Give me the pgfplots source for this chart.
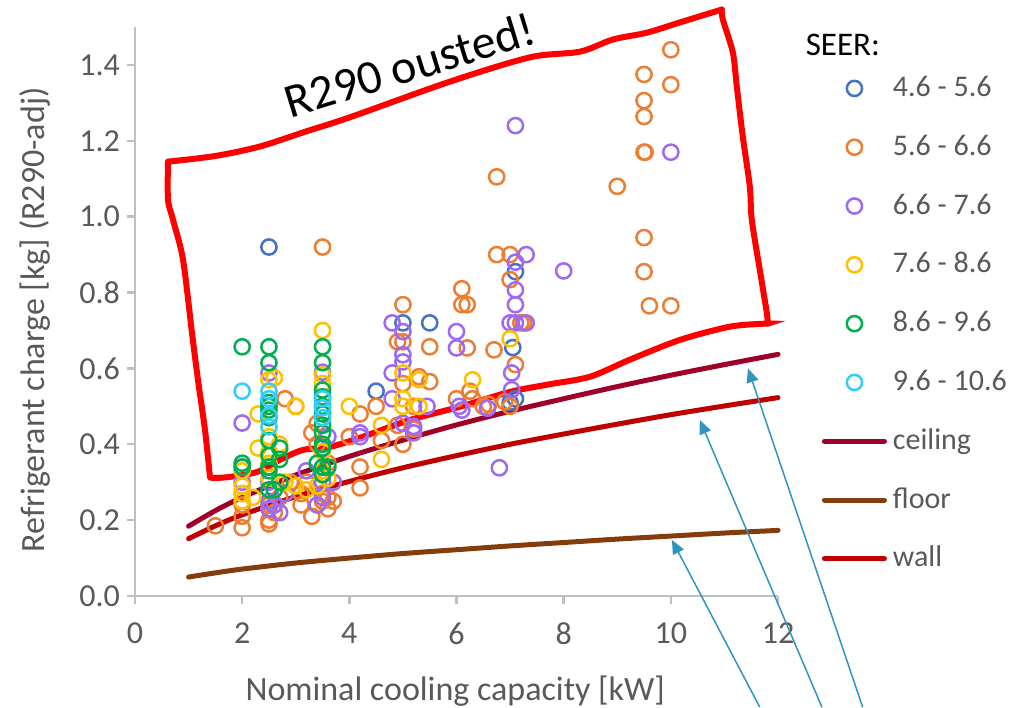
\documentclass[border=0pt]{standalone}
\usepackage{fontspec}
\setmainfont{Carlito}
\usepackage{pgfplots}
\pgfplotsset{compat=1.18}
\usetikzlibrary{arrows.meta}
\definecolor{cBlue}{RGB}{68,114,196}
\definecolor{cOrange}{RGB}{237,125,49}
\definecolor{cPurple}{RGB}{158,105,245}
\definecolor{cYellow}{RGB}{255,192,0}
\definecolor{cGreen}{RGB}{0,176,80}
\definecolor{cCyan}{RGB}{51,204,255}
\definecolor{cCeil}{RGB}{160,0,40}
\definecolor{cFloor}{RGB}{132,60,12}
\definecolor{cWall}{RGB}{192,0,0}
\definecolor{cGray}{RGB}{89,89,89}
\definecolor{cAxis}{RGB}{191,191,191}
\definecolor{cArrow}{RGB}{46,150,190}
\begin{document}
\begin{tikzpicture}
\begin{axis}[
  scale only axis, width=321.5pt, height=284.5pt,
  xmin=0, xmax=12, ymin=0, ymax=1.5,
  axis x line=bottom, axis y line=left,
  axis line style={-, draw=cAxis, line width=1.2pt},
  xtick={0,2,4,6,8,10,12}, ytick={0,0.2,0.4,0.6,0.8,1.0,1.2,1.4},
  tick align=outside, major tick length=4pt,
  tick style={draw=cAxis, line width=1.2pt},
  yticklabel style={/pgf/number format/.cd, fixed, fixed zerofill, precision=1},
  ticklabel style={font=\fontsize{16}{18}\selectfont, text=cGray},
  xticklabel style={yshift=-6pt},
  /pgf/number format/assume math mode=true,
  xlabel={Nominal cooling capacity [kW]},
  ylabel={Refrigerant charge [kg] (R290-adj)},
  label style={font=\fontsize{17}{20}\selectfont, text=cGray},
  xlabel style={at={(axis description cs:0.498,-0.168)}, anchor=center},
  ylabel style={at={(axis description cs:-0.1555,0.485)}, anchor=center},
  clip=false,
  legend cell align=left,
  legend image code/.code={\draw[mark repeat=2,mark phase=2,#1] plot coordinates {(0pt,0pt) (15pt,0pt) (30pt,0pt)};},
  legend style={at={(axis cs:12.82,1.375)}, anchor=north west, draw=none, fill=none,
    inner sep=0pt, outer sep=0pt, font=\fontsize{15}{18}\selectfont, text=cGray,
    row sep=15.4pt, nodes={inner sep=0pt, text height=11pt, text depth=3pt},
    /tikz/every odd column/.style={column sep=3pt}},
  sc/.style={only marks, mark=o, mark size=3.8pt, mark options={line width=1.25pt}},
]
% 4.6 - 5.6
\addplot[sc, color=cBlue] coordinates {
(2.5,0.92)(4.5,0.54)(5.0,0.72)(5.5,0.72)(7.0,0.51)(7.1,0.52)(7.05,0.655)(7.1,0.855)};
\addlegendentry{4.6 - 5.6}
% 5.6 - 6.6
\addplot[sc, color=cOrange] coordinates {
(1.5,0.185)(2.0,0.18)(2.0,0.21)(2.0,0.24)(2.0,0.27)(2.5,0.19)(2.5,0.20)(2.5,0.24)(2.6,0.22)
(2.8,0.52)(3.0,0.50)(2.9,0.30)(2.7,0.26)(3.1,0.24)(3.1,0.27)(3.3,0.21)(3.2,0.30)(3.3,0.43)
(3.4,0.455)(3.5,0.92)(3.5,0.27)(3.5,0.25)(3.6,0.23)(3.6,0.26)(3.7,0.25)(3.4,0.40)(3.6,0.35)
(4.2,0.285)(4.2,0.34)(4.2,0.48)(4.5,0.50)(4.6,0.41)(4.0,0.42)(4.9,0.67)(5.0,0.67)(5.0,0.768)
(5.0,0.56)(5.0,0.40)(4.9,0.45)(5.2,0.44)(5.3,0.578)(5.5,0.565)(5.5,0.657)(5.2,0.50)(6.0,0.52)
(6.1,0.81)(6.1,0.768)(6.2,0.768)(6.2,0.654)(6.25,0.54)(6.3,0.52)(6.5,0.50)(6.7,0.649)
(6.75,1.105)(6.75,0.90)(7.0,0.90)(7.0,0.834)(7.2,0.72)(7.25,0.72)(7.1,0.61)(6.9,0.512)
(7.0,0.50)(6.6,0.505)(9.0,1.08)(9.5,1.375)(9.5,1.306)(9.5,1.264)(9.5,1.17)(9.52,1.17)
(9.5,0.945)(9.5,0.855)(9.6,0.765)(10.0,0.765)(10.0,1.44)(10.0,1.348)};
\addlegendentry{5.6 - 6.6}
% 6.6 - 7.6
\addplot[sc, color=cPurple] coordinates {
(2.0,0.456)(2.0,0.34)(2.0,0.30)(2.5,0.588)(2.5,0.30)(2.5,0.25)(2.5,0.23)(2.6,0.24)(2.7,0.22)
(2.8,0.27)(3.5,0.59)(3.5,0.30)(3.5,0.26)(3.6,0.42)(3.4,0.24)(3.2,0.33)(3.7,0.30)(4.2,0.43)
(4.2,0.42)(4.8,0.72)(5.0,0.697)(5.0,0.636)(5.0,0.617)(4.8,0.588)(4.8,0.52)(5.45,0.50)
(5.0,0.455)(5.2,0.447)(5.2,0.43)(6.0,0.697)(6.0,0.654)(6.05,0.50)(6.58,0.495)(6.8,0.338)
(7.03,0.588)(7.03,0.544)(7.0,0.72)(7.1,0.72)(7.3,0.72)(7.1,0.768)(7.1,0.807)(7.1,0.88)
(7.3,0.90)(7.1,1.24)(8.0,0.857)(10.0,1.17)(6.1,0.49)};
\addlegendentry{6.6 - 7.6}
% 7.6 - 8.6
\addplot[sc, color=cYellow] coordinates {
(2.0,0.33)(2.0,0.29)(2.0,0.25)(2.0,0.27)(2.3,0.48)(2.3,0.39)(2.5,0.57)(2.6,0.575)(2.5,0.42)
(2.5,0.38)(2.5,0.35)(2.5,0.31)(2.7,0.40)(2.8,0.30)(3.0,0.50)(3.0,0.29)(3.2,0.28)(3.5,0.70)
(3.5,0.583)(3.5,0.56)(3.5,0.38)(3.5,0.33)(3.4,0.29)(3.6,0.31)(4.0,0.50)(4.6,0.45)(4.6,0.36)
(5.0,0.588)(5.0,0.52)(5.0,0.50)(5.3,0.57)(5.3,0.50)(6.3,0.57)(7.0,0.678)(2.2,0.26)};
\addlegendentry{7.6 - 8.6}
% 8.6 - 9.6
\addplot[sc, color=cGreen] coordinates {
(2.0,0.657)(2.0,0.35)(2.0,0.34)(2.5,0.657)(2.5,0.615)(2.5,0.51)(2.5,0.50)(2.5,0.49)(2.5,0.47)
(2.5,0.41)(2.5,0.37)(2.5,0.34)(2.5,0.33)(2.5,0.28)(2.7,0.39)(2.7,0.36)(2.6,0.28)(2.7,0.30)
(3.5,0.657)(3.5,0.615)(3.5,0.543)(3.5,0.525)(3.5,0.50)(3.5,0.48)(3.5,0.45)(3.5,0.43)
(3.5,0.40)(3.5,0.39)(3.4,0.35)(3.5,0.34)(3.5,0.32)(3.6,0.34)};
\addlegendentry{8.6 - 9.6}
% 9.6 - 10.6
\addplot[sc, color=cCyan] coordinates {
(2.0,0.54)(2.5,0.54)(2.5,0.475)(2.5,0.446)(2.5,0.52)(3.5,0.52)(3.5,0.496)(3.5,0.47)};
\addlegendentry{9.6 - 10.6}
% lines
\addplot[cCeil, line width=2.5pt, smooth, line cap=round] coordinates {
(1,0.184)(1.5,0.225)(2,0.260)(3,0.319)(4,0.368)(5,0.411)(6,0.451)(7,0.487)(8,0.520)(9,0.552)(10,0.582)(11,0.610)(12,0.637)};
\addlegendentry{ceiling}
\addplot[cFloor, line width=2.5pt, smooth, line cap=round] coordinates {
(1,0.050)(1.5,0.061)(2,0.071)(3,0.087)(4,0.100)(5,0.112)(6,0.122)(7,0.132)(8,0.141)(9,0.150)(10,0.158)(11,0.166)(12,0.173)};
\addlegendentry{floor}
\addplot[cWall, line width=2.5pt, smooth, line cap=round] coordinates {
(1,0.151)(1.5,0.185)(2,0.214)(3,0.262)(4,0.302)(5,0.338)(6,0.370)(7,0.400)(8,0.427)(9,0.453)(10,0.478)(11,0.501)(12,0.523)};
\addlegendentry{wall}
% red hand-drawn frame
\addplot[red, line width=3pt, smooth, line cap=round, forget plot] coordinates {
(0.616,1.145)(1.5,1.160)(2.332,1.185)(3.2,1.225)(4.011,1.262)(5.877,1.356)(7.369,1.420)(8.302,1.435)(8.918,1.467)(9.552,1.485)(10.168,1.512)(10.951,1.546)};
\addplot[red, line width=3pt, smooth, line cap=round, forget plot] coordinates {
(10.951,1.546)(10.970,1.520)(11.157,1.433)(11.231,1.343)(11.343,1.211)(11.474,1.079)(11.511,0.992)(11.660,0.860)(11.791,0.747)(11.810,0.718)};
\addplot[red, line width=3pt, smooth, line cap=round, forget plot] coordinates {
(11.810,0.718)(11.754,0.718)(11.101,0.710)(10.168,0.675)(9.235,0.623)(8.489,0.578)(7.687,0.557)(6.996,0.538)(6.063,0.499)(5.131,0.464)(4.254,0.420)(3.638,0.393)(3.134,0.385)(2.705,0.359)(2.276,0.327)(1.772,0.314)(1.455,0.311)(1.399,0.314)};
\addplot[red, line width=3pt, smooth, line cap=round, forget plot] coordinates {
(1.399,0.314)(1.306,0.438)(1.175,0.570)(1.063,0.694)(0.896,0.887)(0.709,0.992)(0.616,1.045)(0.616,1.145)};
\node[rotate=17, font=\fontsize{24}{28}\selectfont] at (axis cs:5.13,1.40) {R290 ousted!};
\node[font=\fontsize{16.5}{20}\selectfont, text=black, anchor=center] at (axis cs:13.21,1.454) {SEER:};
% arrows
\draw[cArrow, line width=0.75pt, -{Triangle[length=7pt,width=6pt]}] (axis cs:11.66,-0.293) -- (axis cs:10.02,0.148);
\draw[cArrow, line width=0.75pt, -{Triangle[length=7pt,width=6pt]}] (axis cs:12.82,-0.293) -- (axis cs:10.54,0.464);
\draw[cArrow, line width=0.75pt, -{Triangle[length=7pt,width=6pt]}] (axis cs:13.58,-0.293) -- (axis cs:11.44,0.600);
\end{axis}
\pgfresetboundingbox
\path[use as bounding box] (-67.5pt,-55.5pt) rectangle (438pt,298pt);
\end{tikzpicture}
\end{document}
